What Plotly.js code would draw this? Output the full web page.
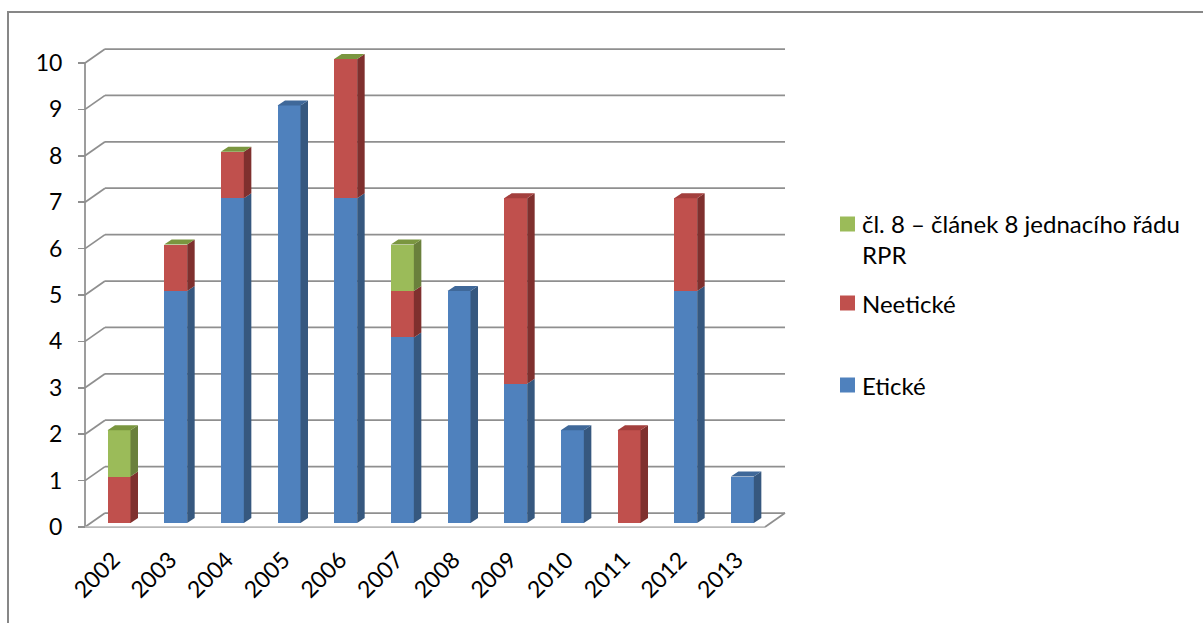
<!DOCTYPE html>
<html>
<head>
<meta charset="utf-8">
<script src="https://cdn.plot.ly/plotly-3.0.1.min.js"></script>
<style>html,body{margin:0;padding:0;background:#fff;}#chart{width:1203px;height:623px;}</style>
</head>
<body>
<div id="chart"></div>
<script>
// ---- data ----
const years = ['2002','2003','2004','2005','2006','2007','2008','2009','2010','2011','2012','2013'];
const eticke   = [0, 5, 7, 9, 7, 4, 5, 3, 2, 0, 5, 1];
const neeticke = [1, 1, 1, null, 3, 1, null, 4, null, 2, 2, null];
const clanek8  = [1, 0, 0, null, 0, 1, null, null, null, null, null, null];
const seriesNames = ['Etické', 'Neetické', 'čl. 8 – článek 8 jednacího řádu<br>RPR'];
const yTicks = [0,1,2,3,4,5,6,7,8,9,10];

// ---- style ----
const FONT = 'Lato, "Open Sans", sans-serif';
const front = ['#4f81bd', '#c0504d', '#9bbb59'];
const side  = ['#36587f', '#7f302e', '#6a803c'];
const top_  = ['#3f6899', '#a33f3d', '#7a963f'];
const grid = '#8f8f8f';

// geometry (pixel plot area 60..795 x 40..540)
const L = 60, R = 795, T = 40, B = 540;
const W = R - L, H = B - T;
const catPx = 56.667, unitPx = 46.4;
const x0 = -0.5 - (85 - L) / catPx;
const x1 = -0.5 + (R - 85) / catPx;
const y0 = -(B - 527) / unitPx;
const y1 = (527 - T) / unitPx;
const barShift = 4 / unitPx;
const depthX = 20 / catPx, depthY = 14 / unitPx;
const bdx = 7.5 / catPx, bdy = 5 / unitPx;
const barW = 0.406, barOff = 0.1;
const pxX = X => (X - L) / W;
const pxY = Y => (B - Y) / H;

const idx = years.map((_, i) => i);
const series = [eticke, neeticke, clanek8];

const traces = [];
series.forEach((s, k) => {
  traces.push({
    type: 'bar', x: idx.map(i => i + barOff), y: s, width: barW,
    xaxis: 'x', yaxis: 'y3', name: seriesNames[k],
    marker: {color: front[k], line: {width: 0}}, showlegend: false, hoverinfo: 'skip'
  });
});

// side & top faces computed from data
const sideX = [[],[],[]], sideY = [[],[],[]], topX = [[],[],[]], topY = [[],[],[]];
idx.forEach(i => {
  let cum = 0, last = -1;
  const xl = i + barOff - barW / 2, xr = i + barOff + barW / 2;
  series.forEach((s, k) => {
    const v = s[i];
    if (v === null || v === undefined) return;
    if (v > 0) {
      sideX[k].push(xr, xr + bdx, xr + bdx, xr, null);
      sideY[k].push(cum, cum + bdy, cum + v + bdy, cum + v, null);
      cum += v;
    }
    last = k;
  });
  if (last >= 0) {
    topX[last].push(xl, xr, xr + bdx, xl + bdx, null);
    topY[last].push(cum, cum, cum + bdy, cum + bdy, null);
  }
});
for (let k = 0; k < 3; k++) {
  traces.push({type: 'scatter', mode: 'lines', x: sideX[k], y: sideY[k], xaxis: 'x', yaxis: 'y3',
    fill: 'toself', fillcolor: side[k], line: {width: 0, color: side[k]}, connectgaps: false,
    showlegend: false, hoverinfo: 'skip'});
  traces.push({type: 'scatter', mode: 'lines', x: topX[k], y: topY[k], xaxis: 'x', yaxis: 'y3',
    fill: 'toself', fillcolor: top_[k], line: {width: 0, color: top_[k]}, connectgaps: false,
    showlegend: false, hoverinfo: 'skip'});
}

// walls / grid shapes
const shapes = [];
yTicks.forEach(v => {
  shapes.push({type: 'line', xref: 'x', yref: 'y', x0: -0.5, y0: v, x1: -0.5 + depthX, y1: v + depthY,
    line: {color: grid, width: 1.75}, layer: 'below'});
  shapes.push({type: 'line', xref: 'x', yref: 'y', x0: -0.5 + depthX, y0: v + depthY, x1: 11.5 + depthX, y1: v + depthY,
    line: {color: grid, width: 1.75}, layer: 'below'});
});
shapes.push({type: 'line', xref: 'x', yref: 'y', x0: -0.5, y0: 0, x1: -0.5, y1: 10, line: {color: grid, width: 1.75}, layer: 'below'});
shapes.push({type: 'line', xref: 'x', yref: 'y', x0: -0.5, y0: 0, x1: 11.5, y1: 0, line: {color: '#b8b8b8', width: 1.75}, layer: 'below'});
shapes.push({type: 'line', xref: 'x', yref: 'y', x0: 11.5, y0: 0, x1: 11.5 + depthX, y1: depthY, line: {color: grid, width: 1.75}, layer: 'below'});
// chart border (left + top)
shapes.push({type: 'path', xref: 'paper', yref: 'paper',
  path: `M ${pxX(8)} ${pxY(623)} L ${pxX(8)} ${pxY(12)} L ${pxX(1203)} ${pxY(12)}`,
  line: {color: '#878787', width: 2}});

// legend (manual)
const legendItems = [
  {k: 2, cy: 224, ty: 239},
  {k: 1, cy: 303, ty: 303},
  {k: 0, cy: 385, ty: 385}
];
const annotations = [];
legendItems.forEach(it => {
  shapes.push({type: 'rect', xref: 'paper', yref: 'paper', x0: pxX(840), x1: pxX(855),
    y0: pxY(it.cy - 7.5), y1: pxY(it.cy + 7.5), fillcolor: front[it.k], line: {width: 0}});
  annotations.push({xref: 'paper', yref: 'paper', x: pxX(860), y: pxY(it.ty), xanchor: 'left', yanchor: 'middle',
    text: seriesNames[it.k], showarrow: false, align: 'left', font: {family: FONT, size: 24, color: '#000'}});
});

const layout = {
  width: 1203, height: 623,
  margin: {l: L, r: 1203 - R, t: T, b: 623 - B, pad: 0},
  paper_bgcolor: '#fff', plot_bgcolor: 'rgba(0,0,0,0)',
  barmode: 'stack', showlegend: false,
  font: {family: FONT, size: 23, color: '#000'},
  xaxis: {range: [x0, x1], anchor: 'free', position: pxY(527), tickvals: idx, ticktext: years,
    ticks: '', tickangle: -45, showgrid: false, zeroline: false, showline: false, ticklabelstandoff: 14,
    tickfont: {family: FONT, size: 23, color: '#000'}, fixedrange: true},
  xaxis2: {range: [x0, x1], overlaying: 'x', anchor: 'free', position: pxY(527), side: 'bottom',
    tickvals: idx.concat([12]).map(i => i - 0.5), showticklabels: false, ticks: 'outside', ticklen: 10,
    tickwidth: 1.75, tickcolor: grid, showgrid: false, zeroline: false, showline: false},
  yaxis: {range: [y0, y1], anchor: 'free', position: pxX(85), tickvals: yTicks, ticks: 'outside', ticklen: 7,
    tickwidth: 1.75, tickcolor: grid, showgrid: false, zeroline: false, showline: false,
    ticklabelstandoff: 11, tickfont: {family: FONT, size: 23, color: '#000'}},
  yaxis3: {range: [y0 - barShift, y1 - barShift], overlaying: 'y', anchor: 'x', visible: false},
  shapes: shapes, annotations: annotations
};

Plotly.newPlot('chart', traces, layout, {staticPlot: true, displayModeBar: false});
</script>
</body>
</html>
